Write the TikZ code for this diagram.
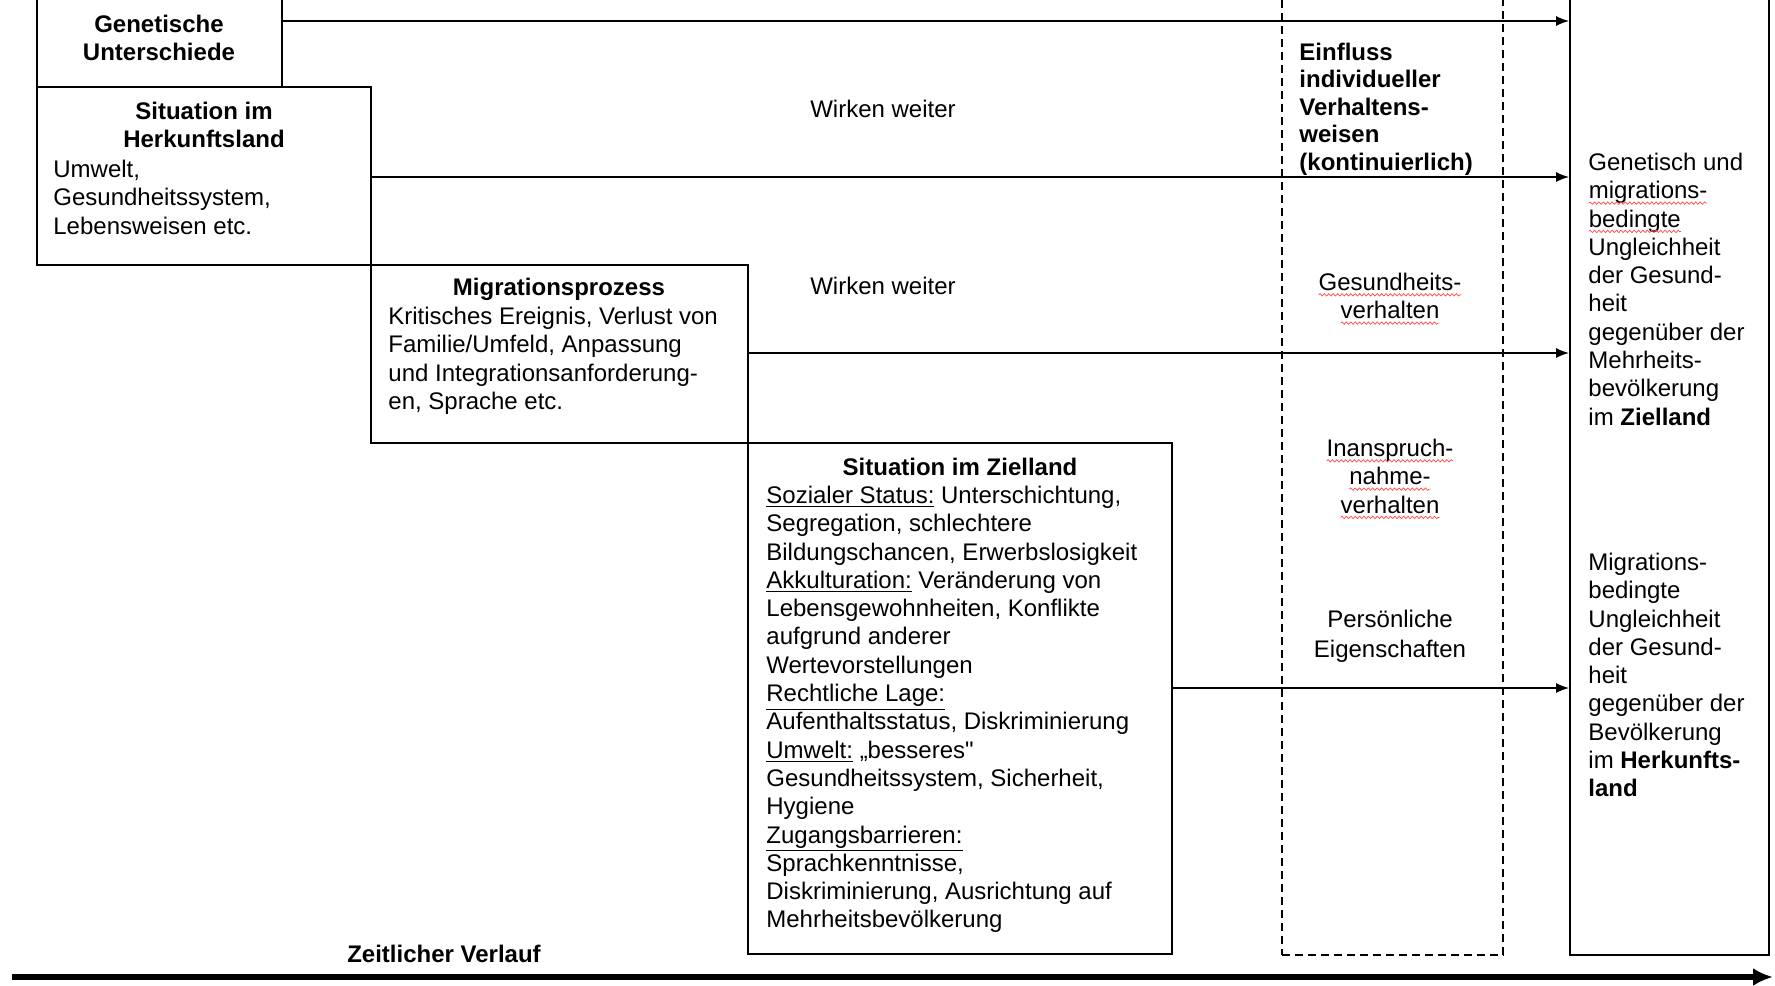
\documentclass[tikz,border=0pt]{standalone}
\usepackage{fontspec}
\setmainfont{Liberation Sans}
\newfontfamily\nomap{Liberation Sans}
\usetikzlibrary{fit,arrows.meta,decorations.pathmorphing}
\newcommand\rwave[1]{\tikz[baseline=(w.base)]{\node[inner sep=0pt,outer sep=0pt](w){#1};
  \draw[red!70, line width=0.35pt, decorate, decoration={snake,amplitude=0.6pt,segment length=2.2pt}] ([yshift=-2.2pt]w.base west) -- ([yshift=-2.2pt]w.base east);}}
\newcommand\fl{\rule{0pt}{9.5pt}}
\begin{document}
\begin{tikzpicture}[x=0.5pt,y=-0.5pt,
  font=\fontsize{12}{14.15}\selectfont,
  box/.style={draw, line width=0.9pt, inner sep=0pt},
  dbox/.style={draw, line width=0.8pt, dash pattern=on 4pt off 2.5pt, inner sep=0pt},
  arr/.style={line width=0.8pt, -{Latex[length=6.5pt,width=5pt]}},
  timearr/.style={line width=2.6pt, -{Latex[length=10pt,width=9pt]}},
  txt/.style={inner sep=0pt, align=left, anchor=north west},
  ctxt/.style={inner sep=0pt, align=center, anchor=north},
]
\useasboundingbox (0,0) rectangle (1775,985);
\clip (0,0) rectangle (1775,985);
\fill[white] (0,0) rectangle (1775,985);

% boxes
\node[box, fit={(37,-10) (282,87)}] (gen) {};
\node[box, fit={(37,87) (371,265)}] (her) {};
\node[box, fit={(371,265) (748,443)}] (mig) {};
\node[box, fit={(748,443) (1172,954)}] (ziel) {};
\node[dbox, fit={(1282,-10) (1503,955)}] (einf) {};
\node[box, fit={(1570,-10) (1769,955)}] (res) {};

% arrows
\coordinate (y1) at (0,21);
\coordinate (y2) at (0,177);
\coordinate (y3) at (0,353);
\coordinate (y4) at (0,688);
\draw[arr] (gen.east |- y1) -- (res.west |- y1);
\draw[arr] (her.east |- y2) -- (res.west |- y2);
\draw[arr] (mig.east |- y3) -- (res.west |- y3);
\draw[arr] (ziel.east |- y4) -- (res.west |- y4);

\coordinate (t0) at (12,977);
\coordinate (t1) at (1773,977);
\draw[timearr] (t0) -- (t1);

% texts
\node[ctxt, font=\fontsize{12}{14}\selectfont\bfseries] (tgen) at (159,13) {\fl Genetische\\Unterschiede};

\node[ctxt, font=\fontsize{12}{14.15}\selectfont\bfseries] (ther) at (204,100) {\fl Situation im\\Herkunftsland};
\node[txt] (bher) at (53,158) {\fl Umwelt,\\Gesundheitssystem,\\Lebensweisen etc.};

\node[ctxt, font=\fontsize{12}{14.15}\selectfont\bfseries] (tmig) at (559,276) {\fl Migrationsprozess};
\node[txt] (bmig) at (388,305) {\fl Kritisches Ereignis, Verlust von\\Familie/Umfeld, Anpassung\\und Integrationsanforderung-\\en, Sprache etc.};

\node[ctxt, font=\fontsize{12}{14.15}\selectfont\bfseries] (tziel) at (960,456) {\fl Situation im Zielland};
\node[txt] (bziel) at (766,484) {\fl \underline{Sozialer Status:} Unterschichtung,\\
Segregation, schlechtere\\
Bildungschancen, Erwerbslosigkeit\\
\underline{Akkulturation:} Veränderung von\\
Lebensgewohnheiten, Konflikte\\
aufgrund anderer\\
Wertevorstellungen\\
\underline{Rechtliche Lage:}\\
Aufenthaltsstatus, Diskriminierung\\
\underline{Umwelt:} „besseres{\nomap"}\\
Gesundheitssystem, Sicherheit,\\
Hygiene\\
\underline{Zugangsbarrieren:}\\
Sprachkenntnisse,\\
Diskriminierung, Ausrichtung auf\\
Mehrheitsbevölkerung};

\node[txt, font=\fontsize{12}{13.75}\selectfont\bfseries] (teinf) at (1299,41) {\fl Einfluss\\individueller\\Verhaltens-\\weisen\\(kontinuierlich)};
\node[ctxt] (ges) at (1390,271) {\fl\rwave{Gesundheits-}\\\rwave{verhalten}};
\node[ctxt] (inan) at (1390,437) {\fl\rwave{Inanspruch-}\\\rwave{nahme-}\\\rwave{verhalten}};
\node[ctxt, font=\fontsize{12}{14.8}\selectfont] (pers) at (1390,608) {\fl Persönliche\\Eigenschaften};

\node[txt] (res1) at (1588,151) {\fl Genetisch und\\\rwave{migrations-}\\\rwave{bedingte}\\Ungleichheit\\der Gesund-\\heit\\gegenüber der\\Mehrheits-\\bevölkerung\\im \textbf{Zielland}};
\node[txt] (res2) at (1588,551) {\fl Migrations-\\bedingte\\Ungleichheit\\der Gesund-\\heit\\gegenüber der\\Bevölkerung\\im \textbf{Herkunfts-}\\\textbf{land}};

\node[inner sep=0pt, anchor=base] (ww1) at (883,117) {Wirken weiter};
\node[inner sep=0pt, anchor=base] (ww2) at (883,294) {Wirken weiter};
\node[inner sep=0pt, anchor=base, font=\fontsize{12}{14.15}\selectfont\bfseries] (zeit) at (444,962) {Zeitlicher Verlauf};
\end{tikzpicture}
\end{document}
